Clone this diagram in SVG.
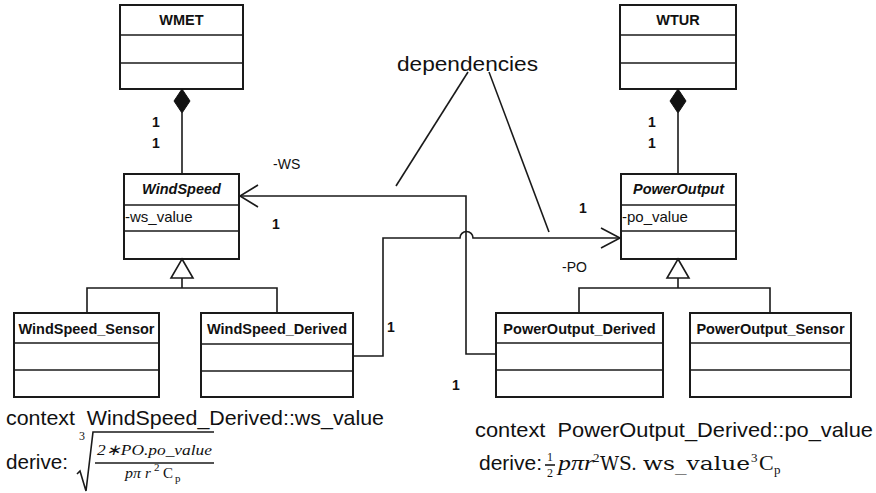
<svg xmlns="http://www.w3.org/2000/svg" width="876" height="493" viewBox="0 0 876 493">
<style>
.box{fill:#fff;stroke:#1a1a1a;stroke-width:2}
.dv{stroke:#1a1a1a;stroke-width:1.6}
.t{font-family:"Liberation Sans",Arial,sans-serif;font-weight:bold;font-size:14.5px;fill:#111;text-anchor:middle}
.ti{font-style:italic}
.attr{font-family:"Liberation Sans",Arial,sans-serif;font-size:15px;fill:#111}
.lbl{font-family:"Liberation Sans",Arial,sans-serif;font-size:14px;fill:#111}
.mul{font-family:"Liberation Sans",Arial,sans-serif;font-size:14px;font-weight:bold;fill:#111}
.ln{fill:none;stroke:#1a1a1a;stroke-width:1.6}
.dia{fill:#111;stroke:#111;stroke-width:1}
.tri{fill:#fff;stroke:#1a1a1a;stroke-width:1.6}
.big{font-family:"Liberation Sans",Arial,sans-serif;font-size:21px;fill:#111;white-space:pre}
.mi{font-family:"Liberation Serif","Times New Roman",serif;font-style:italic;fill:#111}
.mu{font-family:"Liberation Serif","Times New Roman",serif;fill:#111}
.md{font-family:"DejaVu Serif","Liberation Serif",serif;fill:#111}
</style>

<g id="WMET">
<rect class="box" x="120" y="5" width="123" height="84"/>
<line class="dv" x1="120" y1="35" x2="243" y2="35"/>
<line class="dv" x1="120" y1="63" x2="243" y2="63"/>
<text class="t" x="181.5" y="25">WMET</text>
</g>
<g id="WTUR">
<rect class="box" x="620" y="5" width="116" height="84"/>
<line class="dv" x1="620" y1="35" x2="736" y2="35"/>
<line class="dv" x1="620" y1="63" x2="736" y2="63"/>
<text class="t" x="678" y="25">WTUR</text>
</g>
<g id="WindSpeed">
<rect class="box" x="124" y="174" width="115" height="85"/>
<line class="dv" x1="124" y1="205" x2="239" y2="205"/>
<line class="dv" x1="124" y1="231" x2="239" y2="231"/>
<text class="t ti" x="181.5" y="194">WindSpeed</text>
<text class="attr" x="125" y="222">-ws_value</text>
</g>
<g id="PowerOutput">
<rect class="box" x="621" y="174" width="115" height="85"/>
<line class="dv" x1="621" y1="205" x2="736" y2="205"/>
<line class="dv" x1="621" y1="231" x2="736" y2="231"/>
<text class="t ti" x="678.5" y="194">PowerOutput</text>
<text class="attr" x="622" y="222">-po_value</text>
</g>
<g id="WindSpeed_Sensor">
<rect class="box" x="14" y="313" width="145" height="84"/>
<line class="dv" x1="14" y1="343" x2="159" y2="343"/>
<line class="dv" x1="14" y1="370" x2="159" y2="370"/>
<text class="t" x="86.5" y="334">WindSpeed_Sensor</text>
</g>
<g id="WindSpeed_Derived">
<rect class="box" x="201" y="313" width="152" height="84"/>
<line class="dv" x1="201" y1="344" x2="353" y2="344"/>
<line class="dv" x1="201" y1="371" x2="353" y2="371"/>
<text class="t" x="277" y="334">WindSpeed_Derived</text>
</g>
<g id="PowerOutput_Derived">
<rect class="box" x="496" y="313" width="167" height="84"/>
<line class="dv" x1="496" y1="343" x2="663" y2="343"/>
<line class="dv" x1="496" y1="370" x2="663" y2="370"/>
<text class="t" x="579.5" y="334">PowerOutput_Derived</text>
</g>
<g id="PowerOutput_Sensor">
<rect class="box" x="690" y="313" width="161" height="84"/>
<line class="dv" x1="690" y1="343" x2="851" y2="343"/>
<line class="dv" x1="690" y1="370" x2="851" y2="370"/>
<text class="t" x="770.5" y="334">PowerOutput_Sensor</text>
</g>

<g id="connectors">
<line class="ln" x1="182" y1="113" x2="182" y2="174"/>
<polygon class="dia" points="182,89 190,101 182,113 174,101"/>
<line class="ln" x1="678" y1="113" x2="678" y2="174"/>
<polygon class="dia" points="678,89 686,101 678,113 670,101"/>
<path class="ln" d="M182,278 V288 M87,313 V288 H277 V313"/>
<polygon class="tri" points="182,259 193,278 171,278"/>
<path class="ln" d="M678,278 V288 M579,313 V288 H770 V313"/>
<polygon class="tri" points="678,259 689,278 667,278"/>
<path class="ln" d="M496,354 H466 V196 H240"/>
<path class="ln" d="M258,185 L240,196 L258,207"/>
<path class="ln" d="M353,356 H383 V238 H460 A6.5,6.5 0 0 1 473,238 H620"/>
<path class="ln" d="M601,228 L620,238 L601,248"/>
<line class="ln" x1="468" y1="72" x2="396" y2="186"/>
<line class="ln" x1="489" y1="72" x2="549" y2="232"/>
</g>

<g id="labels">
<text class="mul" x="152" y="127">1</text>
<text class="mul" x="152" y="148">1</text>
<text class="mul" x="648" y="127">1</text>
<text class="mul" x="648" y="148">1</text>
<text class="lbl" x="273" y="169">-WS</text>
<text class="mul" x="272" y="229">1</text>
<text class="mul" x="579" y="213">1</text>
<text class="lbl" x="562" y="272">-PO</text>
<text class="mul" x="387" y="332">1</text>
<text class="mul" x="452" y="390">1</text>
<text class="big" x="397" y="71" font-size="22" textLength="141" lengthAdjust="spacingAndGlyphs">dependencies</text>
</g>

<g id="formula-left">
<text class="big" xml:space="preserve" x="6" y="425" textLength="378" lengthAdjust="spacingAndGlyphs">context  WindSpeed_Derived::ws_value</text>
<text class="big" x="6" y="469" textLength="62" lengthAdjust="spacingAndGlyphs">derive:</text>
<text class="mu" x="79" y="440" font-size="12">3</text>
<path class="ln" d="M77,474 L80,471 L86,491 L93,432 H214" stroke-width="1.3"/>
<text class="mi" x="97" y="455" font-size="15" textLength="115" lengthAdjust="spacingAndGlyphs">2∗PO.po_value</text>
<line class="ln" x1="95" y1="463" x2="214" y2="463" stroke-width="1.3"/>
<text class="mi" x="125" y="478" font-size="15" textLength="16" lengthAdjust="spacingAndGlyphs">pπ</text>
<text class="mi" x="145" y="478" font-size="15">r</text>
<text class="mu" x="154" y="471" font-size="11">2</text>
<text class="mu" x="163" y="478" font-size="15">C</text>
<text class="mu" x="175" y="482" font-size="11">p</text>
</g>

<g id="formula-right">
<text class="big" xml:space="preserve" x="475" y="437" textLength="398" lengthAdjust="spacingAndGlyphs">context  PowerOutput_Derived::po_value</text>
<text class="big" x="479" y="470">derive:</text>
<text class="mu" x="550" y="461" font-size="12" text-anchor="middle">1</text>
<line class="ln" x1="545" y1="465" x2="555" y2="465" stroke-width="1.2"/>
<text class="mu" x="550" y="477" font-size="12" text-anchor="middle">2</text>
<text class="mi" x="558" y="470" font-size="22" textLength="36" lengthAdjust="spacingAndGlyphs">pπr</text>
<text class="mu" x="593" y="462" font-size="13">2</text>
<text class="md" x="600" y="470" font-size="19" textLength="37" lengthAdjust="spacingAndGlyphs">WS.</text>
<text class="md" x="643" y="470" font-size="19" textLength="107" lengthAdjust="spacingAndGlyphs">ws_value</text>
<text class="mu" x="751" y="462" font-size="13">3</text>
<text class="mu" x="759" y="470" font-size="22">C</text>
<text class="mu" x="774" y="474" font-size="13">p</text>
</g>
</svg>
